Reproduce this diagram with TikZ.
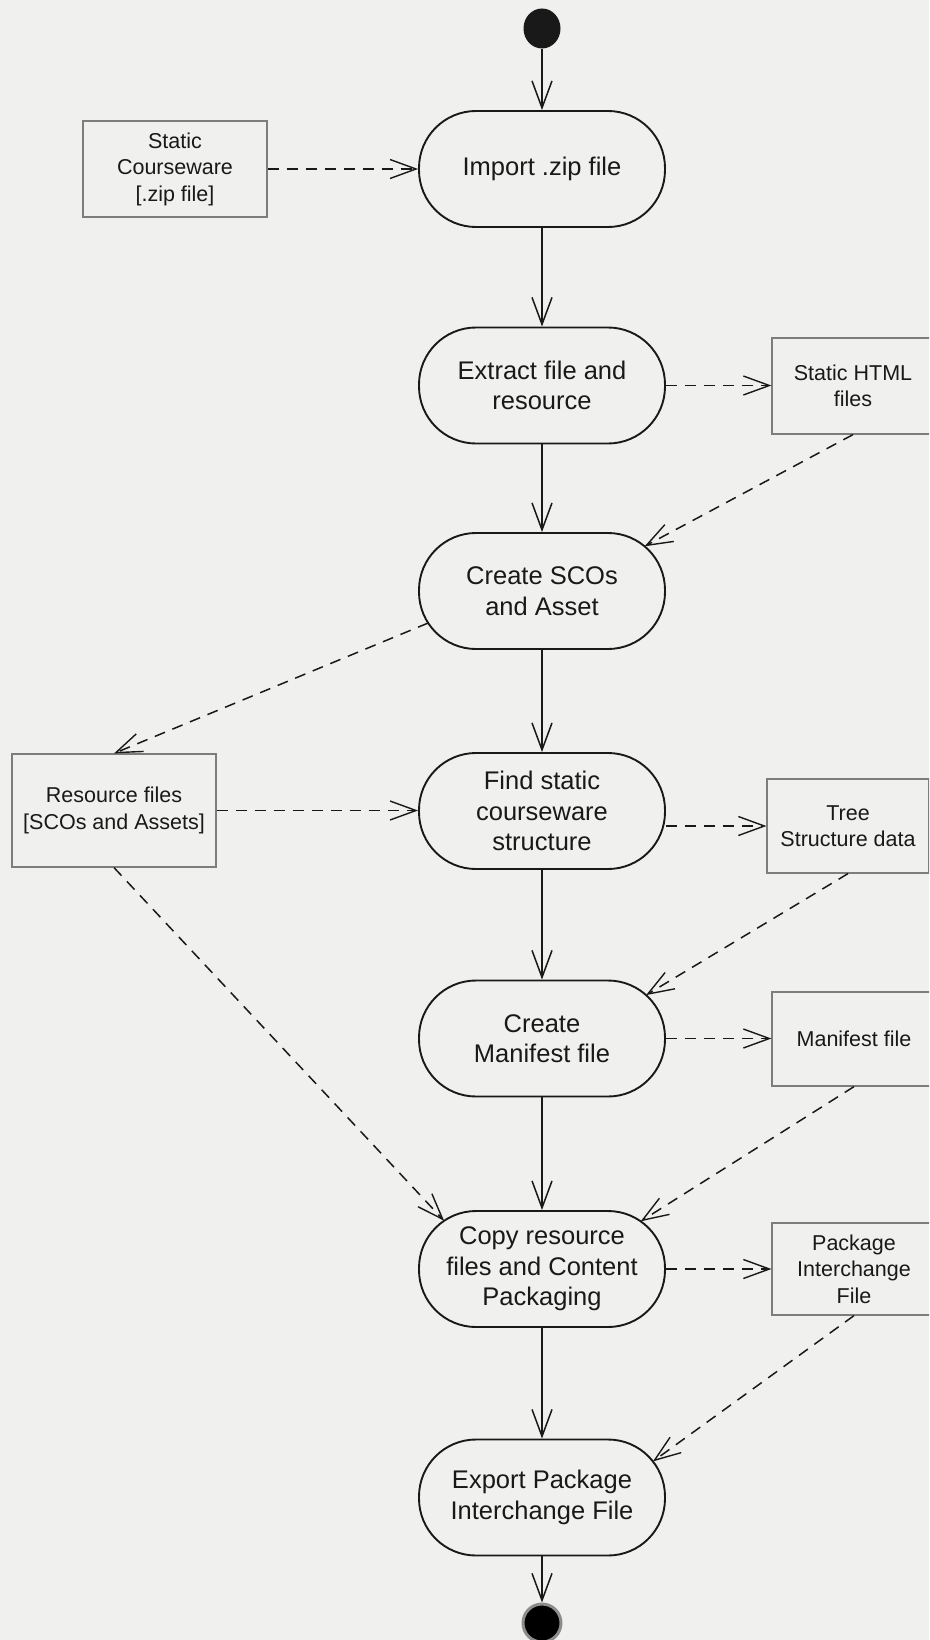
\documentclass[tikz,border=0pt]{standalone}
\usepackage{fontspec}
\setmainfont{Liberation Sans}
\usetikzlibrary{arrows.meta,shapes.geometric}
\definecolor{paper}{RGB}{240,240,238}
\definecolor{ink}{RGB}{25,25,25}
\definecolor{boxline}{RGB}{125,125,125}
\definecolor{ring}{RGB}{140,140,140}
\begin{document}
\begin{tikzpicture}[x=1pt,y=-1pt,
  activity/.style={draw=ink, line width=1.9pt, rectangle, rounded corners=57pt,
    minimum width=246pt, minimum height=116pt, align=center, inner sep=0pt,
    font=\fontsize{25.5}{30.5}\selectfont, text=ink},
  artifact/.style={draw=boxline, line width=1.2pt, rectangle, align=center,
    inner sep=0pt, font=\fontsize{21.5}{26.5}\selectfont, text=ink},
  flow/.style={draw=ink, line width=1.6pt,
    -{Straight Barb[length=27pt,width=20pt,line width=1.5pt]}},
  objflow/.style={draw=ink, line width=1.5pt, dash pattern=on 11pt off 8pt,
    -{Straight Barb[length=26pt,width=19pt,line width=1.4pt]}},
]
% canvas
\useasboundingbox (0,0) rectangle (929,1640);
\fill[paper] (0,0) rectangle (929,1640);
\clip (0,0) rectangle (929,1640);

% initial and final states
\node[ellipse, fill=ink, minimum width=37pt, minimum height=40pt, inner sep=0pt] (start) at (542,28.5) {};
\node[circle, fill=black, draw=ring, line width=3pt, minimum size=38pt, inner sep=0pt] (finish) at (542,1623) {};

% activities
\node[activity] (import)   at (542,169)    {Import .zip file};
\node[activity] (extract)  at (542,385.5)  {Extract file and\\resource};
\node[activity] (scos)     at (542,591)    {Create SCOs\\and Asset};
\node[activity] (find)     at (542,811)    {Find static\\courseware\\structure};
\node[activity] (manifest) at (542,1038.5) {Create\\Manifest file};
\node[activity] (copy)     at (542,1269)   {Copy resource\\files and Content\\Packaging};
\node[activity] (export)   at (542,1497.5) {Export Package\\Interchange File};

% object nodes
\node[artifact, minimum width=184pt, minimum height=96pt]  (courseware)   at (175,169)  {Static\\Courseware\\{[}.zip file{]}};
\node[artifact, minimum width=162pt, minimum height=96pt]  (html)         at (853,386)  {Static HTML\\files};
\node[artifact, minimum width=204pt, minimum height=113pt] (resource)     at (114,810.5) {Resource files\\{[}SCOs and Assets{]}};
\node[artifact, minimum width=162pt, minimum height=94pt]  (tree)         at (848,826)  {Tree\\Structure data};
\node[artifact, minimum width=164pt, minimum height=94pt]  (manifestfile) at (854,1039) {Manifest file};
\node[artifact, minimum width=164pt, minimum height=92pt]  (pif)          at (854,1269) {Package\\Interchange\\File};

% control flow
\draw[flow] (start.south) -- (import.north);
\draw[flow] (import.south) -- (extract.north);
\draw[flow] (extract.south) -- (scos.north);
\draw[flow] (scos.south) -- (find.north);
\draw[flow] (find.south) -- (manifest.north);
\draw[flow] (manifest.south) -- (copy.north);
\draw[flow] (copy.south) -- (export.north);
\draw[flow] (export.south) -- (finish.north);

% object flow
\draw[objflow] (courseware.east) -- (import.west);
\draw[objflow] (extract.east) -- (extract.east -| html.west);
\draw[objflow] (html.south) -- ([shift={(102.6,-44.7)}]scos.center);
\draw[objflow] ([shift={(-113.8,32)}]scos.center) -- (resource.north);
\draw[objflow] (resource.east) -- (resource.east -| find.west);
\draw[objflow] (tree.west -| find.east) -- (tree.west);
\draw[objflow] (tree.south) -- ([shift={(104,-43.4)}]manifest.center);
\draw[objflow] (manifest.east) -- (manifest.east -| manifestfile.west);
\draw[objflow] (manifestfile.south) -- ([shift={(98.7,-47.7)}]copy.center);
\draw[objflow] (resource.south) -- ([shift={(-97.9,-48.3)}]copy.center);
\draw[objflow] (copy.east) -- (pif.west);
\draw[objflow] (pif.south) -- ([shift={(110.9,-36.1)}]export.center);
\end{tikzpicture}
\end{document}
